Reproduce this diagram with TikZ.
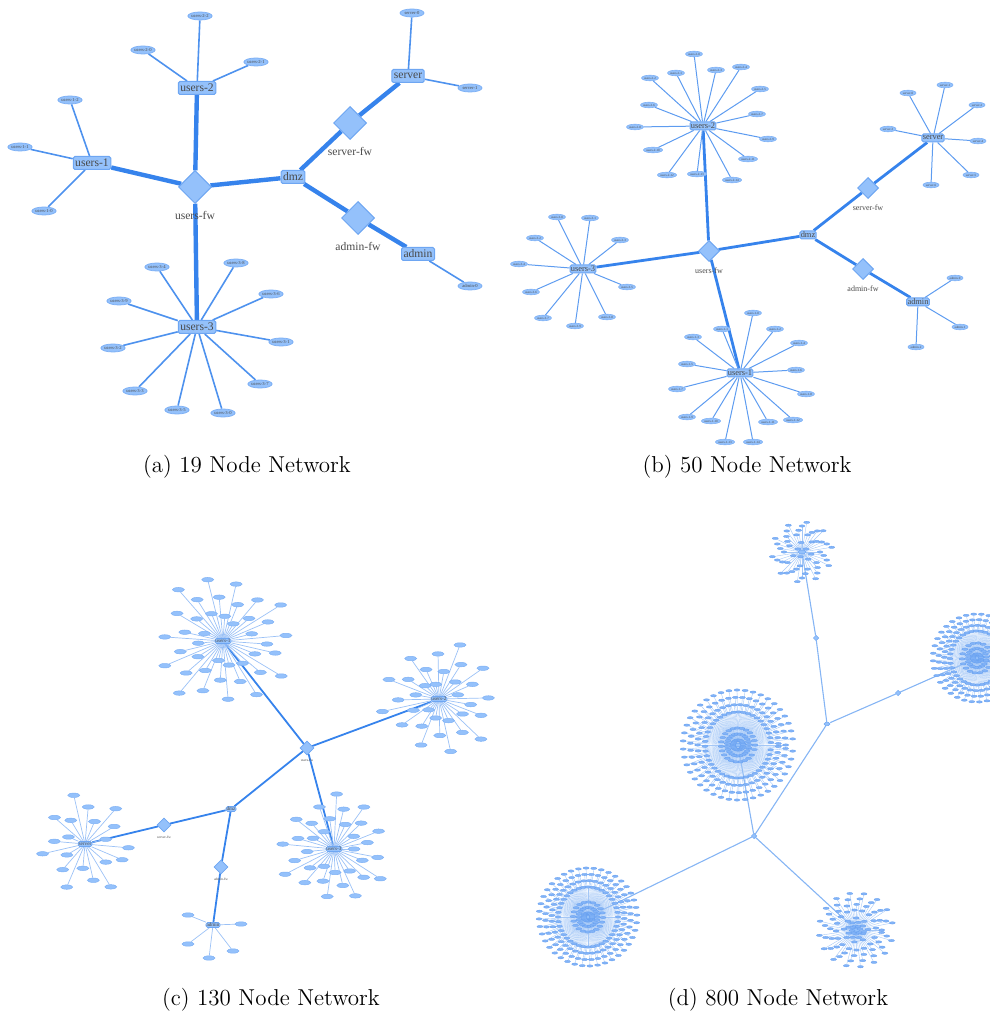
\documentclass[tikz,border=0pt]{standalone}
\usepackage{fontspec}
\newfontfamily\labelfont{Liberation Serif}
\usetikzlibrary{shapes.geometric, positioning, calc, backgrounds}
\definecolor{NetFill}{HTML}{94C1FB}
\definecolor{NetDraw}{HTML}{6EA6F2}
\definecolor{NetLeafDraw}{HTML}{7DB0F5}
\definecolor{NetDense}{HTML}{82B3F7}
\definecolor{NetDenseDraw}{HTML}{659FF0}
\definecolor{NetEdge}{HTML}{3683EC}
\definecolor{NetText}{HTML}{4A4A4A}
\tikzset{
    % hub boxes
    hub/.style={
        rectangle,
        rounded corners=0.8pt,
        draw=NetDraw,
        fill=NetFill,
        line width=0.5pt,
        inner sep=0.6pt,
        text=NetText
    },
    hub a/.style={hub, minimum height=6.5pt, inner sep=1pt, font=\labelfont\fontsize{5.8}{5.8}\selectfont},
    hub b/.style={hub, minimum height=4pt, inner sep=0.4pt, font=\labelfont\fontsize{4.2}{4.2}\selectfont},
    hub c/.style={hub, line width=0.3pt, minimum height=2.5pt, inner sep=0.3pt, font=\labelfont\fontsize{2.6}{2.6}\selectfont},
    hub d/.style={hub, line width=0.2pt, minimum width=4pt, minimum height=1.6pt, inner sep=0pt},
    % firewalls
    fw/.style={
        diamond,
        aspect=1,
        draw=NetDraw,
        fill=NetFill,
        line width=0.5pt,
        inner sep=0pt
    },
    fw a/.style={fw, minimum width=16.5pt, minimum height=16.5pt},
    fw b/.style={fw, minimum width=10.5pt, minimum height=10.5pt},
    fw c/.style={fw, line width=0.3pt, minimum width=7pt, minimum height=7pt},
    fw d/.style={fw, line width=0.2pt, minimum width=2.8pt, minimum height=2.8pt},
    fw label a/.style={inner sep=0.5pt, text=NetText, font=\labelfont\fontsize{5.8}{5.8}\selectfont},
    fw label b/.style={inner sep=0.5pt, text=NetText, font=\labelfont\fontsize{4}{4}\selectfont},
    fw label c/.style={inner sep=0.3pt, text=NetText, font=\labelfont\fontsize{1.8}{1.8}\selectfont},
    % leaves
    leaf/.style={
        ellipse,
        draw=NetLeafDraw,
        fill=NetFill,
        inner sep=0pt,
        text=NetText
    },
    leaf a/.style={leaf, line width=0.4pt, minimum width=12pt, minimum height=4pt, font=\labelfont\fontsize{2.3}{2.3}\selectfont},
    leaf b/.style={leaf, line width=0.3pt, minimum width=8pt, minimum height=2.8pt, font=\labelfont\fontsize{1.6}{1.6}\selectfont},
    leaf c/.style={leaf, line width=0.25pt, minimum width=6pt, minimum height=2.2pt},
    leaf d/.style={leaf, fill=NetDense, draw=NetDenseDraw, line width=0.15pt, minimum width=3pt, minimum height=1.2pt},
    % links
    link a/.style={NetEdge, line width=2.2pt},
    link b/.style={NetEdge, line width=1.4pt},
    link c/.style={NetEdge, line width=0.9pt},
    link d/.style={NetEdge!60, line width=0.55pt},
    leaf link a/.style={NetEdge!88, line width=0.8pt},
    leaf link b/.style={NetEdge!80, line width=0.5pt},
    leaf link c/.style={NetEdge!50, line width=0.35pt},
    leaf link d/.style={NetEdge!45, line width=0.2pt},
    caption/.style={font=\fontsize{11.5}{14}\selectfont, text=black}
}
\begin{document}
\begin{tikzpicture}[x=0.5pt, y=-0.5pt]
    \useasboundingbox (0,0) rectangle (989,1015);

    % (a) 19 node network
    \node[fw a] (a-ufw) at (195,187) {};
    \node[fw label a, below=3pt of a-ufw] (a-ufw-l) {users-fw};
    \node[hub a] (a-dmz) at (293,177) {dmz};
    \node[fw a] (a-sfw) at (350,123) {};
    \node[fw label a, below=3pt of a-sfw] (a-sfw-l) {server-fw};
    \node[fw a] (a-afw) at (358,218) {};
    \node[fw label a, below=3pt of a-afw] (a-afw-l) {admin-fw};
    \node[hub a] (a-u1) at (92,163) {users-1};
    \node[hub a] (a-u2) at (197,88) {users-2};
    \node[hub a] (a-u3) at (197,327) {users-3};
    \node[hub a] (a-srv) at (408,76) {server};
    \node[hub a] (a-adm) at (418,254) {admin};
    \foreach \nm/\x/\y in {users-1-0/44/211, users-1-1/20/147, users-1-2/70/100,
        users-2-0/143/50, users-2-1/256/62, users-2-2/200/16,
        users-3-0/223/413, users-3-1/281/342, users-3-2/113/348, users-3-3/135/391,
        users-3-4/157/267, users-3-5/177/410, users-3-6/271/294, users-3-7/260/384,
        users-3-8/236/263, users-3-9/119/301,
        server-0/412/13, server-1/470/88, admin-0/470/286}
        \node[leaf a] (a-\nm) at (\x,\y) {\nm};

    % (b) 50 node network
    \node[fw b] (b-ufw) at (709,251) {};
    \node[fw label b, below=2pt of b-ufw] (b-ufw-l) {users-fw};
    \node[hub b] (b-dmz) at (808,235) {dmz};
    \node[fw b] (b-sfw) at (868,188) {};
    \node[fw label b, below=2pt of b-sfw] (b-sfw-l) {server-fw};
    \node[fw b] (b-afw) at (863,269) {};
    \node[fw label b, below=2pt of b-afw] (b-afw-l) {admin-fw};
    \node[hub b] (b-u1) at (740,373) {users-1};
    \node[hub b] (b-u2) at (703,126) {users-2};
    \node[hub b] (b-u3) at (583,269) {users-3};
    \node[hub b] (b-srv) at (933,138) {server};
    \node[hub b] (b-adm) at (918,302) {admin};
    \foreach \x/\y [count=\k from 0] in {694/54, 676/73, 650/78, 716/70, 741/67, 760/89,
        649/105, 757/114, 635/127, 768/139, 653/150, 748/159, 667/175, 697/174, 732/180}
        \node[leaf b] (b-users-2-\k) at (\x,\y) {users-2-\k};
    \foreach \x/\y [count=\k from 0] in {753/313, 722/329, 775/329, 693/337, 799/343,
        687/364, 796/370, 677/389, 806/394, 687/417, 711/421, 768/422, 793/420, 725/442, 753/442}
        \node[leaf b] (b-users-1-\k) at (\x,\y) {users-1-\k};
    \foreach \x/\y [count=\k from 0] in {557/217, 590/218, 535/238, 620/240, 519/264,
        627/287, 531/292, 543/318, 607/317, 575/326}
        \node[leaf b] (b-users-3-\k) at (\x,\y) {users-3-\k};
    \foreach \x/\y [count=\k from 0] in {908/93, 945/85, 977/105, 888/129, 978/141, 971/175, 931/185}
        \node[leaf b] (b-server-\k) at (\x,\y) {server-\k};
    \foreach \x/\y [count=\k from 0] in {955/278, 960/327, 916/347}
        \node[leaf b] (b-admin-\k) at (\x,\y) {admin-\k};

    % (c) 130 node network
    \node[fw c] (c-ufw) at (307,748) {};
    \node[fw label c, below=1.5pt of c-ufw] (c-ufw-l) {users-fw};
    \node[hub c] (c-dmz) at (231,809) {dmz};
    \node[fw c] (c-sfw) at (164,825) {};
    \node[fw label c, below=1.5pt of c-sfw] (c-sfw-l) {server-fw};
    \node[fw c] (c-afw) at (221,867) {};
    \node[fw label c, below=1.5pt of c-afw] (c-afw-l) {admin-fw};
    \node[hub c] (c-adm) at (213,925) {admin};
    \foreach \x/\y [count=\k] in {188/915, 241/924, 188/944, 233/951, 209/958}
        \node[leaf c] (c-adm-\k) at (\x,\y) {};
    \foreach \cl/\txt/\cx/\cy/\nn/\rmin/\rmax/\ph in {u1/users-1/223/641/40/20/68/4,
        u2/users-2/439/699/32/15/58/10, u3/users-3/334/849/33/20/55/0, srv/server/85/844/20/18/50/5}{
        \node[hub c] (c-\cl) at (\cx,\cy) {\txt};
        \foreach \k in {1,...,\nn}
            \node[leaf c] (c-\cl-\k) at ($(c-\cl)+({\k/\nn*360+\ph}:{\rmin+(\rmax-\rmin)*mod(\k*7,11)/10})$) {};
    }

    % (d) 800 node network
    \node[fw d] (d-ufw) at (754,836) {};
    \node[hub d, minimum width=3pt] (d-dmz) at (827,724) {};
    \node[fw d] (d-sfw) at (898,693) {};
    \node[fw d] (d-afw) at (816,638) {};
    \foreach \cl/\cx/\cy/\nin/\nout/\ria/\rib/\roa/\rob in {u1/738/745/70/170/5/17/33/55,
        u2/588/917/60/160/4/15/30/49, u3/856/930/25/65/4/12/20/37,
        srv/977/658/55/145/4/15/27/44, adm/802/552/10/40/5/14/18/30}{
        \node[hub d] (d-\cl) at (\cx,\cy) {};
        \foreach \k in {1,...,\nin}
            \node[leaf d] (d-\cl-i\k) at ($(d-\cl)+({\k/\nin*360+mod(\k,3)*13}:{\ria+(\rib-\ria)*mod(\k,3)/2})$) {};
        \foreach \k in {1,...,\nout}
            \node[leaf d] (d-\cl-o\k) at ($(d-\cl)+({\k/\nout*360}:{\roa+(\rob-\roa)*mod(\k,4)/3})$) {};
    }

    % Captions
    \node[caption] (cap-a) at (247,467) {(a) 19 Node Network};
    \node[caption] (cap-b) at (747,467) {(b) 50 Node Network};
    \node[caption] (cap-c) at (271,1000) {(c) 130 Node Network};
    \node[caption] (cap-d) at (778,1000) {(d) 800 Node Network};

    % Links
    \begin{scope}[on background layer]
        \draw[link a] (a-ufw) -- (a-u1);
        \draw[link a] (a-ufw) -- (a-u2);
        \draw[link a] (a-ufw) -- (a-u3);
        \draw[link a] (a-ufw) -- (a-dmz);
        \draw[link a] (a-dmz) -- (a-sfw) -- (a-srv);
        \draw[link a] (a-dmz) -- (a-afw) -- (a-adm);
        \foreach \k in {0,1,2} \draw[leaf link a] (a-u1) -- (a-users-1-\k);
        \foreach \k in {0,1,2} \draw[leaf link a] (a-u2) -- (a-users-2-\k);
        \foreach \k in {0,...,9} \draw[leaf link a] (a-u3) -- (a-users-3-\k);
        \foreach \k in {0,1} \draw[leaf link a] (a-srv) -- (a-server-\k);
        \draw[leaf link a] (a-adm) -- (a-admin-0);

        \draw[link b] (b-ufw) -- (b-u1);
        \draw[link b] (b-ufw) -- (b-u2);
        \draw[link b] (b-ufw) -- (b-u3);
        \draw[link b] (b-ufw) -- (b-dmz);
        \draw[link b] (b-dmz) -- (b-sfw) -- (b-srv);
        \draw[link b] (b-dmz) -- (b-afw) -- (b-adm);
        \foreach \k in {0,...,14} \draw[leaf link b] (b-u2) -- (b-users-2-\k);
        \foreach \k in {0,...,14} \draw[leaf link b] (b-u1) -- (b-users-1-\k);
        \foreach \k in {0,...,9} \draw[leaf link b] (b-u3) -- (b-users-3-\k);
        \foreach \k in {0,...,6} \draw[leaf link b] (b-srv) -- (b-server-\k);
        \foreach \k in {0,1,2} \draw[leaf link b] (b-adm) -- (b-admin-\k);

        \draw[link c] (c-ufw) -- (c-u1);
        \draw[link c] (c-ufw) -- (c-u2);
        \draw[link c] (c-ufw) -- (c-u3);
        \draw[link c] (c-ufw) -- (c-dmz);
        \draw[link c] (c-dmz) -- (c-sfw) -- (c-srv);
        \draw[link c] (c-dmz) -- (c-afw) -- (c-adm);
        \foreach \k in {1,...,5} \draw[leaf link c] (c-adm) -- (c-adm-\k);
        \foreach \cl/\nn in {u1/40, u2/32, u3/33, srv/20}
            \foreach \k in {1,...,\nn} \draw[leaf link c] (c-\cl) -- (c-\cl-\k);

        \draw[link d] (d-ufw) -- (d-u1);
        \draw[link d] (d-ufw) -- (d-u2);
        \draw[link d] (d-ufw) -- (d-u3);
        \draw[link d] (d-ufw) -- (d-dmz);
        \draw[link d] (d-dmz) -- (d-sfw) -- (d-srv);
        \draw[link d] (d-dmz) -- (d-afw) -- (d-adm);
        \foreach \cl/\nin/\nout in {u1/70/170, u2/60/160, u3/25/65, srv/55/145, adm/10/40}{
            \foreach \k in {1,...,\nin} \draw[leaf link d] (d-\cl) -- (d-\cl-i\k);
            \foreach \k in {1,...,\nout} \draw[leaf link d] (d-\cl) -- (d-\cl-o\k);
        }
    \end{scope}
\end{tikzpicture}
\end{document}
